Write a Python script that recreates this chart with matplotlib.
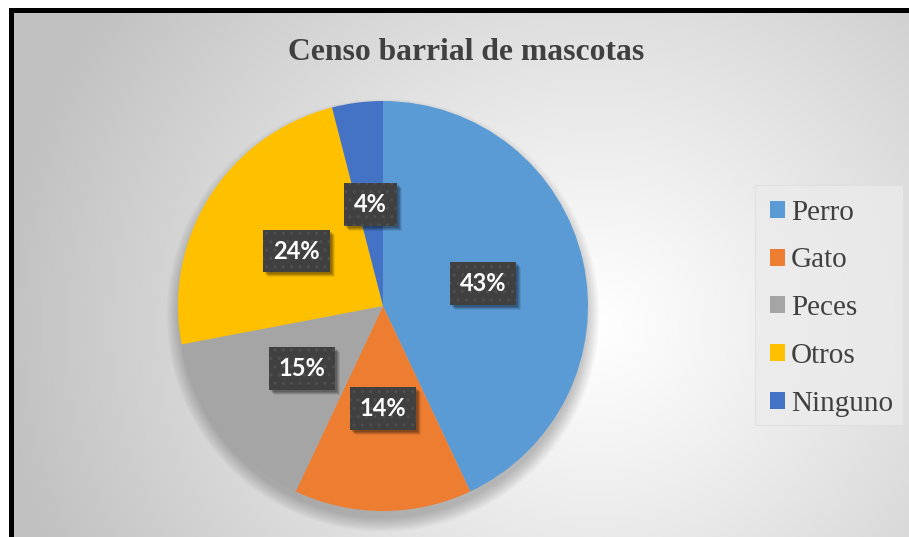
import matplotlib
matplotlib.use("Agg")
import matplotlib.pyplot as plt
from matplotlib.patches import Patch, Circle, Rectangle
import numpy as np

# ── Datos ────────────────────────────────────────────────
categorias = ["Perro", "Gato", "Peces", "Otros", "Ninguno"]
porcentajes = [43, 14, 15, 24, 4]
colores = ["#5B9BD5", "#ED7D31", "#A5A5A5", "#FFC000", "#4472C4"]
titulo = "Censo barrial de mascotas"

W, H = 909, 537
fig = plt.figure(figsize=(W / 100, H / 100), dpi=100)
fig.patch.set_facecolor("white")
plt.rcParams["hatch.linewidth"] = 1.2

# ── Fondo con degradado radial ────────────────────────────
bg = fig.add_axes([0, 0, 1, 1])
bg.set_xlim(0, W)
bg.set_ylim(H, 0)
bg.axis("off")
yy, xx = np.mgrid[0:H, 0:W]
d = np.hypot(xx - 590, (yy - 320) * 1.05) / 600
v = 1.0 - 0.24 * np.clip(d, 0, 1) ** 1.1
img = np.dstack([v, v, v])
bg.imshow(img, extent=[14, W, H, 13], aspect="auto", zorder=0)
# marco negro (arriba e izquierda)
bg.fill_between([9, W], 8, 13, color="black", zorder=2, lw=0)
bg.fill_betweenx([8, H], 9, 14, color="black", zorder=2, lw=0)
# recuadro de la leyenda
bg.add_patch(Rectangle((755, 185), 148, 240, fc="#ebebeb", ec="#dedede",
                       lw=0.8, alpha=0.8, zorder=3))

bg.text(466, 52, titulo, ha="center", va="center", fontsize=22.8,
        fontweight="bold", color="#404040", family="Liberation Serif")

# ── Gráfico de torta ──────────────────────────────────────
cx, cy, r = 383, 306, 205
ax = fig.add_axes([(cx - r) / W, (H - cy - r) / H, 2 * r / W, 2 * r / H])
ax.set_facecolor("none")

# sombra suave
for i in range(12):
    ax.add_patch(Circle((0.0, -0.045), 0.99 + i * 0.006, color="black",
                        alpha=0.02, lw=0, zorder=0, clip_on=False))

wedges, texts, autotexts = ax.pie(
    porcentajes, colors=colores, startangle=90, counterclock=False,
    autopct="%1.0f%%", pctdistance=0.5, radius=1,
    wedgeprops=dict(linewidth=0),
)
ax.set_xlim(-1, 1)
ax.set_ylim(-1, 1)
ax.set_aspect("auto")

for t in autotexts:
    t.set_fontsize(17)
    t.set_fontweight("bold")
    t.set_family("Lato")
    t.set_color("white")
    t.set_zorder(7)
    t.set_bbox(dict(boxstyle="square,pad=0.42", fc="#404040", ec="#4e4e4e",
                    lw=0, hatch=".."))

# sombras de las etiquetas (debajo de las cajas)
fig.canvas.draw()
for t in autotexts:
    bb = t.get_bbox_patch().get_window_extent()
    for k, a in [(5, 0.08), (4, 0.12), (3, 0.15), (2, 0.15)]:
        ax.add_patch(Rectangle((bb.x0 + k, bb.y0 - k), bb.width, bb.height,
                               transform=None, fc="black", ec="none",
                               alpha=a, zorder=5, clip_on=False))

# ── Leyenda ───────────────────────────────────────────────
handles = [Patch(facecolor=c, edgecolor="none") for c in colores]
leg = fig.legend(handles, categorias, loc="upper left",
                 bbox_to_anchor=(755 / W, 1 - 185 / H),
                 prop=dict(family="Liberation Serif", size=21),
                 frameon=False, labelspacing=0.75,
                 handlelength=0.52, handleheight=0.52, handletextpad=0.22,
                 borderpad=0.5, borderaxespad=0)
for t in leg.get_texts():
    t.set_color("#404040")

fig.savefig("out.png", dpi=100)
